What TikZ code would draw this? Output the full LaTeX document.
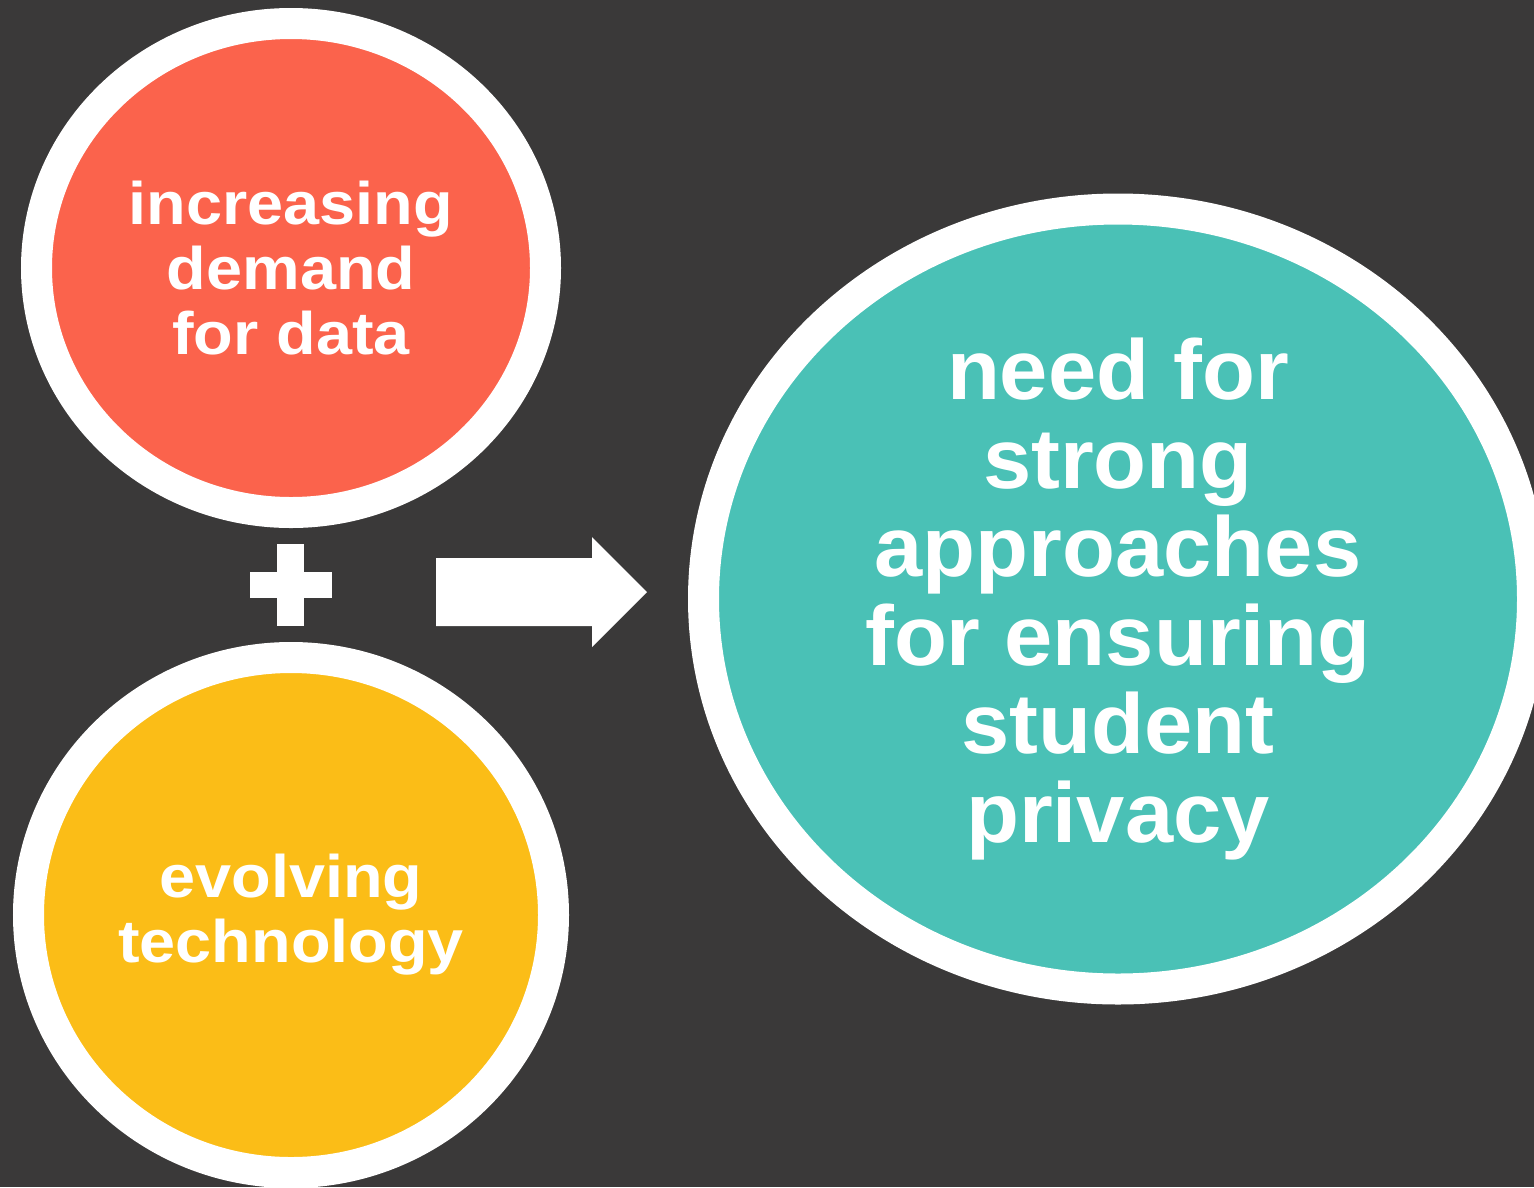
\documentclass[tikz,border=0pt]{standalone}
\usepackage{fontspec}
\setmainfont{Liberation Sans}
\newfontfamily\smallround{Liberation Sans}[FakeStretch=1.08]
\newfontfamily\biground{Liberation Sans}[FakeStretch=1.02]
\usetikzlibrary{shapes.geometric}

\definecolor{board}{HTML}{3A3939}
\definecolor{coral}{HTML}{FB634C}
\definecolor{amber}{HTML}{FBBD17}
\definecolor{lagoon}{HTML}{4AC1B6}

\tikzset{
  bubble/.style={ellipse, draw=white, line width=31pt, inner sep=0pt,
                 text=white, align=center},
  small text/.style={font=\smallround\bfseries\fontsize{60}{65}\selectfont},
  big text/.style={font=\biground\bfseries\fontsize{85}{88.5}\selectfont},
}

\begin{document}
\begin{tikzpicture}[x=1pt, y=-1pt]

\useasboundingbox (0,0) rectangle (1534,1187);
\fill[board] (0,0) rectangle (1534,1187);

\node[bubble, small text, fill=coral, minimum width=509pt, minimum height=489pt]
  (demand) at (291,268) {increasing\\demand\\for data};
\node[bubble, small text, fill=amber, minimum width=525pt, minimum height=515pt]
  (tech) at (291,915) {evolving\\technology};
\node[bubble, big text, fill=lagoon, minimum width=829pt, minimum height=780pt]
  (privacy) at (1118,599)
  {need for\\strong\\approaches\\for ensuring\\student\\privacy};

% plus sign
\fill[white] (277,544) rectangle (304,626);
\fill[white] (250,572) rectangle (332,598);

% block arrow
\fill[white] (436,558) -- (592,558) -- (592,537) -- (647,592)
  -- (592,647) -- (592,626) -- (436,626) -- cycle;

\end{tikzpicture}
\end{document}
